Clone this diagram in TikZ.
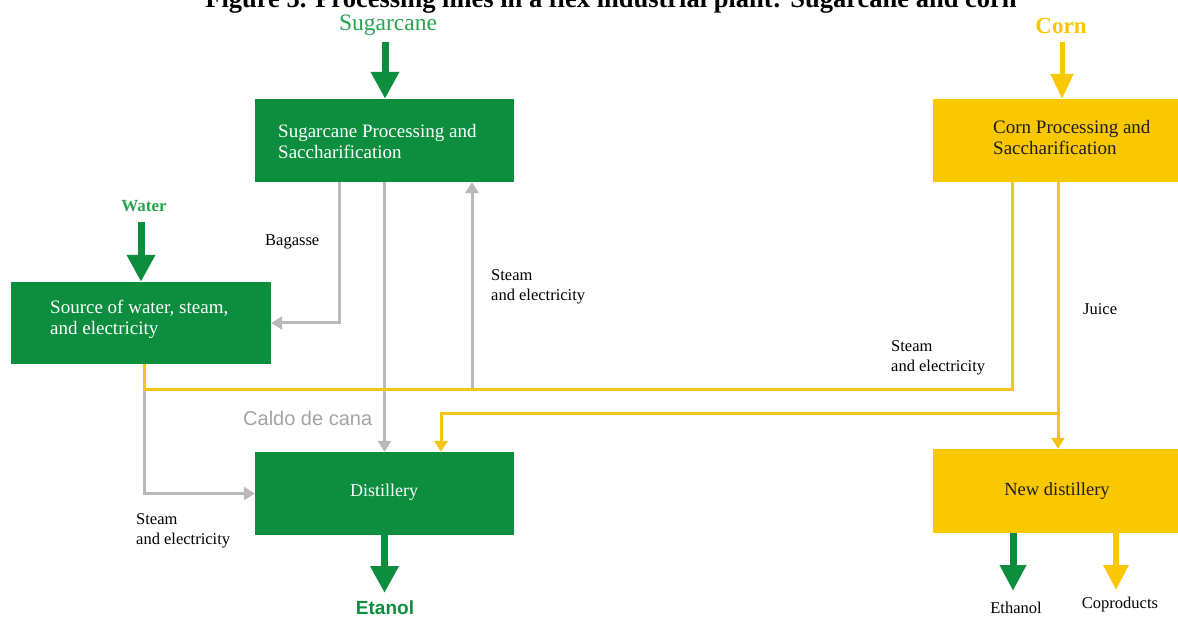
\documentclass[tikz,border=0pt]{standalone}
\usepackage{fontspec}
\setmainfont{Liberation Serif}
\setsansfont{Liberation Sans}
\usetikzlibrary{arrows.meta}
\definecolor{boxgreen}{RGB}{12,142,62}
\definecolor{lblgreen}{RGB}{40,165,80}
\definecolor{cornyellow}{RGB}{250,200,0}
\definecolor{lineyellow}{RGB}{245,196,20}
\definecolor{linegray}{RGB}{185,185,185}
\definecolor{caldogray}{RGB}{165,165,165}
\definecolor{darktext}{RGB}{30,30,30}
\begin{document}
\begin{tikzpicture}[x=1pt,y=-1pt,
  gbox/.style={fill=boxgreen, draw=none, inner sep=0, minimum width=259pt, minimum height=83pt},
  ybox/.style={fill=cornyellow, draw=none, inner sep=0, minimum width=245pt, minimum height=83pt},
  boxtext/.style={font=\fontsize{19}{21.5}\selectfont, align=left, inner sep=0, anchor=west},
  lbl/.style={font=\fontsize{16.5}{20}\selectfont, align=left, inner sep=0, anchor=west, text=black},
  garrow/.style={draw=linegray, line width=3pt, -{Triangle[width=13pt,length=11pt]}},
  yline/.style={draw=lineyellow, line width=3pt},
  yarrow/.style={yline, -{Triangle[width=13pt,length=11pt]}},
  bigG/.style={draw=boxgreen, line width=7pt, -{Triangle[width=27pt,length=27pt]}},
  bigY/.style={draw=cornyellow, line width=6pt, -{Triangle[width=24pt,length=25pt]}},
]
\clip (0,0) rectangle (1178,617);
\fill[white] (0,0) rectangle (1178,617);

% title (cut at top)
\node[font=\bfseries\fontsize{26.5}{30}\selectfont, anchor=base, inner sep=0] (title) at (611,8)
  {Figure 5. Processing lines in a flex industrial plant: Sugarcane and corn};

% input labels
\node[font=\fontsize{23.5}{26}\selectfont, text=lblgreen, inner sep=0] (sclbl) at (388,25) {Sugarcane};
\node[font=\bfseries\fontsize{23}{26}\selectfont, text=cornyellow, inner sep=0] (cnlbl) at (1061,26) {Corn};
\node[font=\bfseries\fontsize{17}{20}\selectfont, text=lblgreen, inner sep=0] (wlbl) at (144,206) {Water};

% boxes
\node[gbox] (sc) at (384.5,140.5) {};
\node[boxtext, text=white] (sctxt) at (278,141.5) {Sugarcane Processing and\\Saccharification};
\node[ybox] (cn) at (1055.5,140.5) {};
\node[boxtext, text=darktext] (cntxt) at (993,137.5) {Corn Processing and\\Saccharification};
\node[gbox, minimum width=260pt, minimum height=82pt] (src) at (141,323) {};
\node[boxtext, text=white] (srctxt) at (50,319.5) {Source of water, steam,\\and electricity};
\node[gbox] (dist) at (384.5,493.5) {};
\node[font=\fontsize{18}{21}\selectfont, text=white, inner sep=0] (disttxt) at (384,492) {Distillery};
\node[ybox, minimum height=84pt] (nd) at (1055.5,491) {};
\node[font=\fontsize{18.5}{21}\selectfont, text=darktext, inner sep=0] (ndtxt) at (1057,491) {New distillery};

% helper coordinates
\coordinate (scin) at (385,42);
\coordinate (win) at (141,222);
\coordinate (cnx) at (1062,42);
\coordinate (bagx) at (339,0);
\coordinate (stx) at (472,390);
\coordinate (c144) at (144,0);
\coordinate (yc) at (1012,390);
\coordinate (gs) at (144,390);
\coordinate (jx) at (1058,0);
\coordinate (jb) at (1058,414);
\coordinate (dd) at (441,0);
\coordinate (etout) at (384.5,593);
\coordinate (ethx) at (1013,0);
\coordinate (ethout) at (1013,591);
\coordinate (cpx) at (1116,0);
\coordinate (cpout) at (1116,590);

% thick input arrows
\draw[bigG] (scin) -- (sc.north -| scin);
\draw[bigG] (win) -- (src.north);
\draw[bigY, line width=5pt, -{Triangle[width=22pt,length=25pt]}] (cnx) -- (cn.north -| cnx);

% gray connectors
\draw[garrow] (sc.south -| bagx) |- (src.east);
\draw[garrow] (sc.south) -- (dist.north);
\draw[garrow] (stx) -- (sc.south -| stx);
\draw[garrow] (gs) |- (dist.west);

% yellow connectors
\draw[yline] (src.south -| c144) |- (yc) -- (cn.south -| yc);
\draw[yarrow] (cn.south -| jx) -- (nd.north -| jx);
\draw[yarrow] (jb) -| (dist.north -| dd);

% outputs
\draw[bigG, line width=7pt] (dist.south) -- (etout);
\draw[bigG, line width=7pt, -{Triangle[width=25pt,length=26pt]}] (nd.south -| ethx) -- (ethout);
\draw[bigY] (nd.south -| cpx) -- (cpout);

% labels
\node[lbl] (bag) at (265,242) {Bagasse};
\node[lbl] (st1) at (491,287) {Steam\\and electricity};
\node[font=\sffamily\fontsize{20}{22}\selectfont, text=caldogray, inner sep=0, anchor=west] (caldo) at (243,418) {Caldo de cana};
\node[lbl] (st2) at (136,531) {Steam\\and electricity};
\node[lbl] (st3) at (891,358) {Steam\\and electricity};
\node[lbl] (juice) at (1083,309) {Juice};
\node[font=\sffamily\bfseries\fontsize{19}{22}\selectfont, text=boxgreen, inner sep=0] (etanol) at (385,608) {Etanol};
\node[font=\fontsize{16.5}{20}\selectfont, inner sep=0] (ethanol) at (1016,608) {Ethanol};
\node[font=\fontsize{16.5}{20}\selectfont, inner sep=0] (copr) at (1120,605) {Coproducts};
\end{tikzpicture}
\end{document}
